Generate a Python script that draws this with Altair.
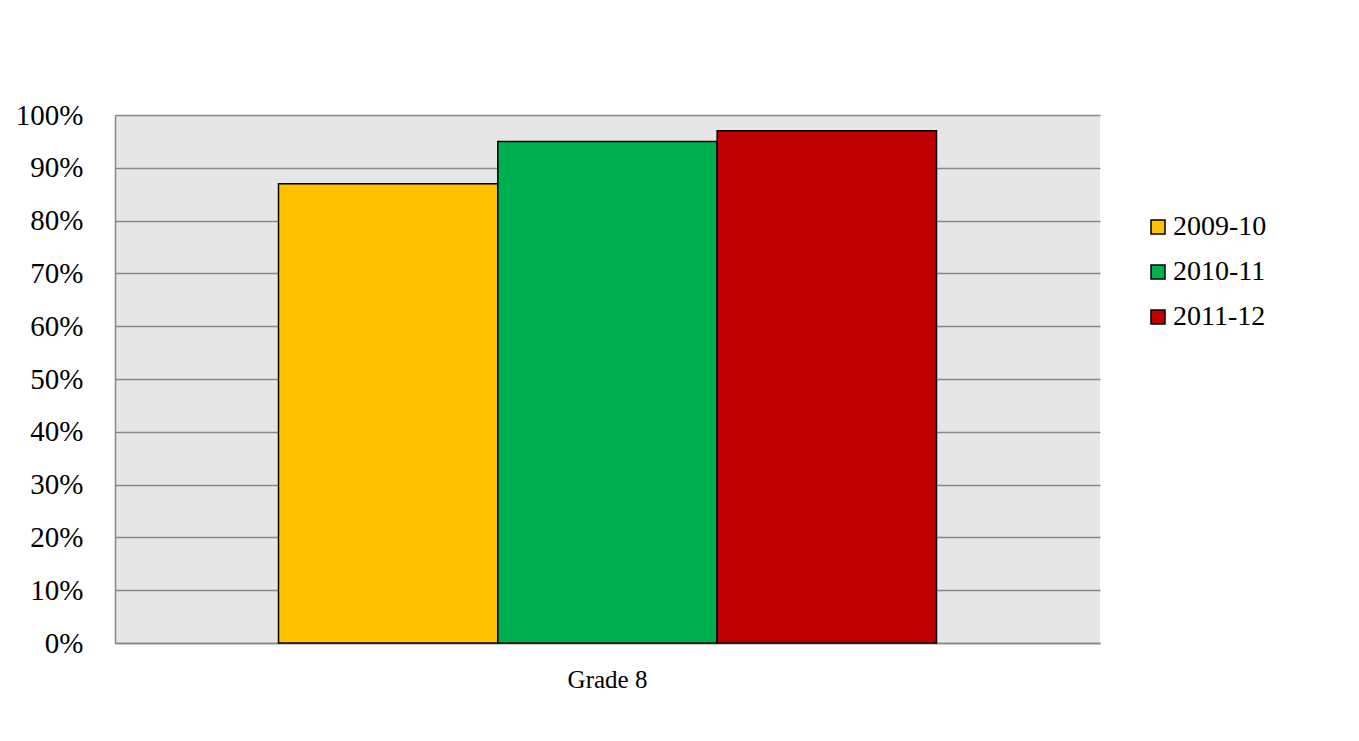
import altair as alt
import pandas as pd

grades = ["Grade 8", "Grade 8", "Grade 8"]
years = ["2009-10", "2010-11", "2011-12"]
values = [0.87, 0.95, 0.97]
colors = ["#FFC000", "#00B050", "#C00000"]

df = pd.DataFrame({"grade": grades, "year": years, "value": values})

FONT = "Liberation Serif"

chart = alt.Chart(df).mark_bar(stroke="black", strokeWidth=1.5).encode(
    x=alt.X("grade:N", title=None,
            scale=alt.Scale(paddingInner=0, paddingOuter=0.2485),
            axis=alt.Axis(labelAngle=0, labelFont=FONT, labelFontSize=25,
                          labelColor="black", ticks=False, labelPadding=24,
                          domainColor="#888888", domainWidth=1.5)),
    xOffset=alt.XOffset("year:N", sort=years),
    y=alt.Y("value:Q", title=None,
            scale=alt.Scale(domain=[0, 1], nice=False),
            axis=alt.Axis(format=".0%", values=[i / 10 for i in range(11)],
                          labelFont=FONT, labelFontSize=29, labelColor="black",
                          ticks=False, labelPadding=32,
                          gridColor="#888888", gridWidth=1.5,
                          domainColor="#888888", domainWidth=1.5)),
    color=alt.Color("year:N", sort=years,
                    scale=alt.Scale(domain=years, range=colors),
                    legend=alt.Legend(title=None, orient="none",
                                      legendX=1029, legendY=98,
                                      symbolType="square", symbolSize=196,
                                      symbolStrokeColor="black", symbolStrokeWidth=1.5,
                                      symbolOpacity=1,
                                      labelFont=FONT, labelFontSize=28,
                                      labelColor="black", labelOffset=1,
                                      rowPadding=17, padding=0)),
).properties(
    width=985, height=528,
    autosize=alt.AutoSizeParams(type="none"),
    padding={"left": 107, "top": 107, "right": 236, "bottom": 90},
).configure_view(
    fill="#E6E6E6", stroke=None
)

chart.save("out.html", embed_options={"renderer": "svg", "actions": False})
